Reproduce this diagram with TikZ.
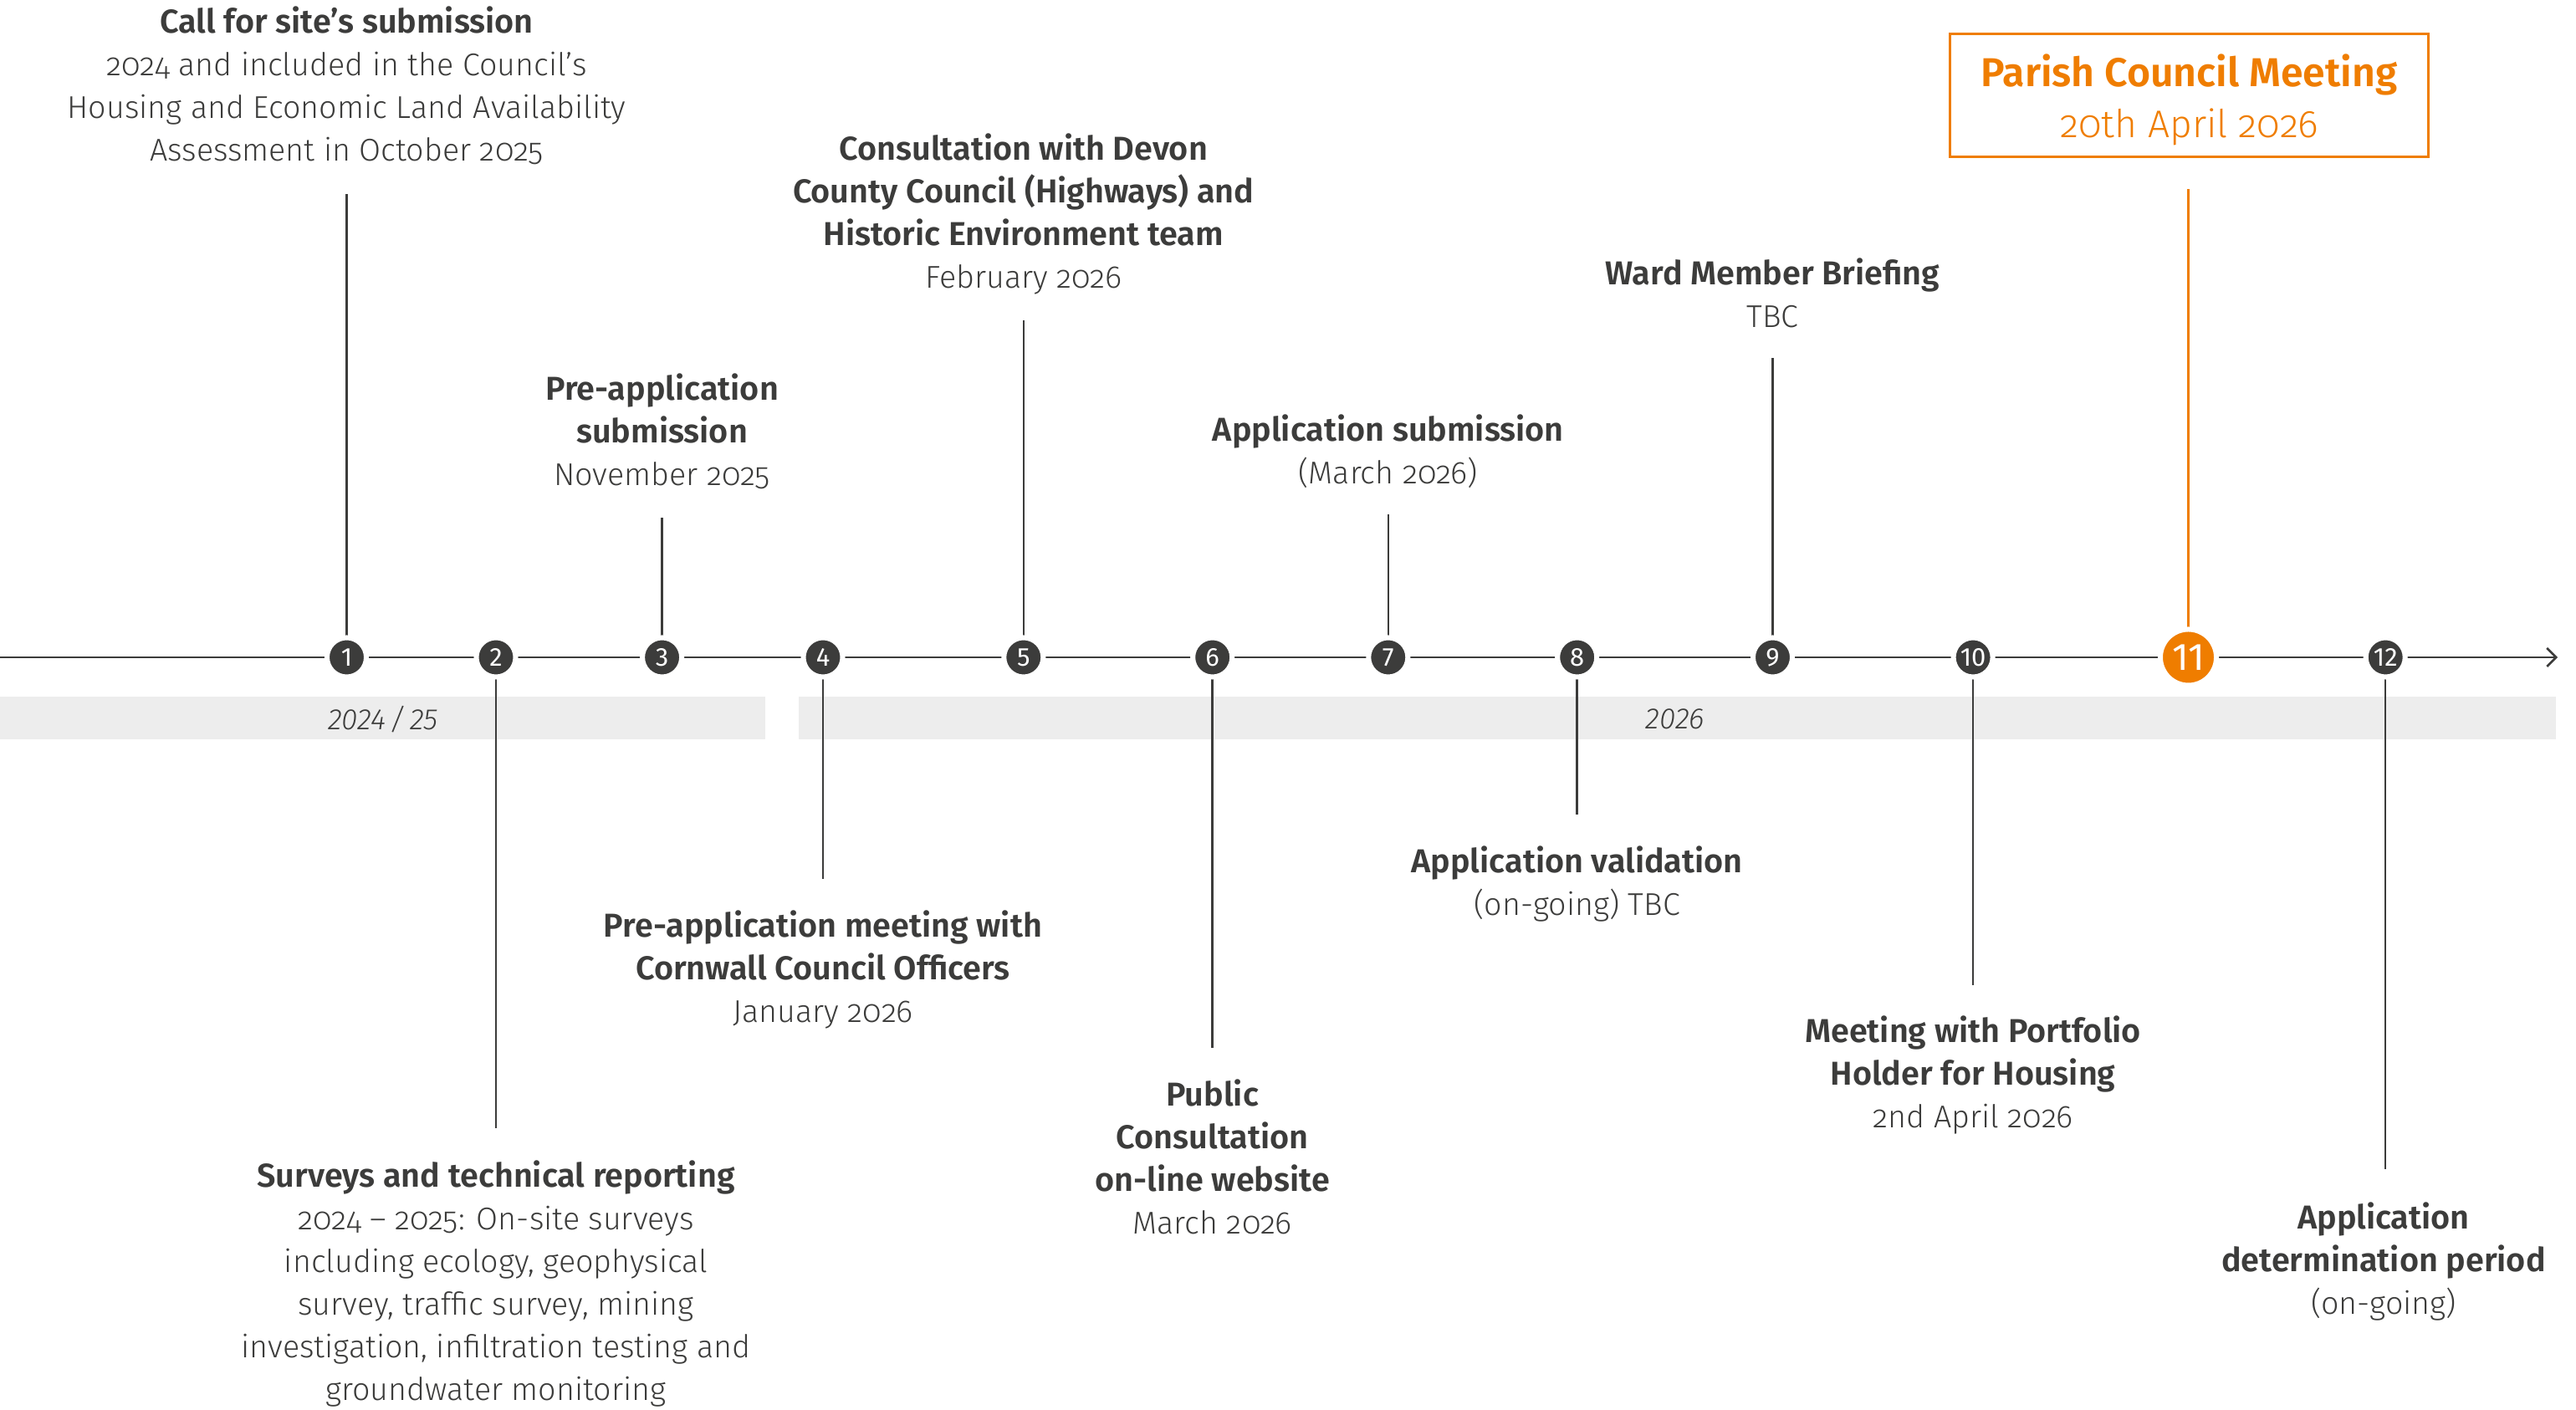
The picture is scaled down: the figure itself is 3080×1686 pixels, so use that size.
\documentclass[tikz,border=0pt]{standalone}
\usepackage{fontspec}
\setmainfont{Fira Sans Light}[BoldFont={Fira Sans SemiBold}, ItalicFont={Fira Sans Light Italic}, BoldItalicFont={Fira Sans SemiBold Italic}, Numbers=OldStyle]
\newfontfamily\numfont{Fira Sans}[Numbers=Lining]
\usetikzlibrary{arrows.meta}
\definecolor{ink}{HTML}{3C3C3B}
\definecolor{accent}{HTML}{EF7D00}
\definecolor{bandgrey}{HTML}{EDEDED}
\pgfdeclarelayer{bg}
\pgfdeclarelayer{wires}
\pgfsetlayers{bg,wires,main}
% milestone heading line
\newcommand\mshead[1]{{\fontsize{11.25}{14.5}\selectfont\bfseries #1}}
\newcommand\boxhead[1]{{\fontsize{13.7}{17.4}\selectfont\bfseries #1}}
\tikzset{
  marker/.style={circle, fill=ink, draw=white, line width=0.06cm, minimum size=0.47cm, inner sep=0pt, text=white, font=\numfont\fontsize{8.8}{8.8}\selectfont},
  hotmarker/.style={marker, fill=accent, minimum size=0.67cm, font=\numfont\fontsize{13}{13}\selectfont},
  wire/.style={draw=ink, line width=0.025cm},
  hotwire/.style={draw=accent, line width=0.025cm},
  lbl/.style={align=center, anchor=north, inner sep=0pt, text=ink, font=\fontsize{10.7}{14.5}\selectfont},
  yearlbl/.style={inner sep=0pt, text=ink, font=\itshape\addfontfeatures{Numbers=Lining}\fontsize{10}{10}\selectfont},
  hotframe/.style={draw=accent, line width=0.03cm, minimum width=5.71cm, minimum height=1.46cm, inner sep=0pt},
  hottext/.style={align=center, text=accent, inner sep=0pt, font=\fontsize{13.1}{17.4}\selectfont}
}
\begin{document}
\begin{tikzpicture}[x=0.01cm, y=-0.01cm]
\useasboundingbox (0,0) rectangle (3080,1686);

% year bands
\begin{pgfonlayer}{bg}
  \fill[bandgrey] (0,833) rectangle (915,884);
  \fill[bandgrey] (955,833) rectangle (3056,884);
\end{pgfonlayer}
\node[yearlbl] (y1) at (458,860) {2024\kern1.5pt/\kern1.5pt25};
\node[yearlbl] (y2) at (2003,860) {2026};

% timeline
\coordinate (start) at (0,786);
\coordinate (finish) at (3058,786);

% milestone markers
\node[marker] (m1) at (414.5,786) {1};
\node[marker] (m2) at (593,786) {2};
\node[marker] (m3) at (791.6,786) {3};
\node[marker] (m4) at (984,786) {4};
\node[marker] (m5) at (1223.8,786) {5};
\node[marker] (m6) at (1449.7,786) {6};
\node[marker] (m7) at (1659.8,786) {7};
\node[marker] (m8) at (1885.7,786) {8};
\node[marker] (m9) at (2119.5,786) {9};
\node[marker] (m10) at (2359.1,786) {10};
\node[hotmarker] (m11) at (2616.5,786) {11};
\node[marker] (m12) at (2852.2,786) {12};

% stem ends
\coordinate (e1) at (414.5,232);
\coordinate (e2) at (593,1349);
\coordinate (e3) at (791.6,619);
\coordinate (e4) at (984,1051);
\coordinate (e5) at (1223.8,383);
\coordinate (e6) at (1449.7,1253);
\coordinate (e7) at (1659.8,615);
\coordinate (e8) at (1885.7,974);
\coordinate (e9) at (2119.5,428);
\coordinate (e10) at (2359.1,1178);
\coordinate (e11) at (2616.5,226);
\coordinate (e12) at (2852.2,1398);

\begin{pgfonlayer}{wires}
  \draw[wire, -{Straight Barb[length=0.11cm, width=0.22cm]}] (start) -- (finish);
  \foreach \i in {1,...,10,12} {\draw[wire] (m\i.center) -- (e\i);}
  \draw[hotwire] (m11.center) -- (e11);
\end{pgfonlayer}

% labels above the line
\node[lbl] (t1) at (414.5,7) {\mshead{Call for site’s submission}\\2024 and included in the Council’s\\Housing and Economic Land Availability\\Assessment in October 2025};
\node[lbl] (t3) at (791.6,446) {\mshead{Pre-application}\\\mshead{submission}\\November 2025};
\node[lbl] (t5) at (1223.8,159) {\mshead{Consultation with Devon}\\\mshead{County Council (Highways) and}\\\mshead{Historic Environment team}\\February 2026};
\node[lbl] (t7) at (1659.8,495) {\mshead{Application submission}\\(March 2026)};
\node[lbl] (t9) at (2119.5,308) {\mshead{Ward Member Briefing}\\TBC};
\node[hotframe] (t11) at (2617.5,114) {};
\node[hottext] (t11txt) at (2617.5,119) {\boxhead{Parish Council Meeting}\\20th April 2026};

% labels below the line
\node[lbl] (t2) at (593,1387) {\mshead{Surveys and technical reporting}\\2024 – 2025: On-site surveys\\including ecology, geophysical\\survey, traffic survey, mining\\investigation, infiltration testing and\\groundwater monitoring};
\node[lbl] (t4) at (984,1088) {\mshead{Pre-application meeting with}\\\mshead{Cornwall Council Officers}\\January 2026};
\node[lbl] (t6) at (1449.7,1290) {\mshead{Public}\\\mshead{Consultation}\\\mshead{on-line website}\\March 2026};
\node[lbl] (t8) at (1885.7,1011) {\mshead{Application validation}\\(on-going) TBC};
\node[lbl] (t10) at (2359.1,1214) {\mshead{Meeting with Portfolio}\\\mshead{Holder for Housing}\\2nd April 2026};
\node[lbl] (t12) at (2850,1437) {\mshead{Application}\\\mshead{determination period}\\(on-going)};
\end{tikzpicture}
\end{document}
